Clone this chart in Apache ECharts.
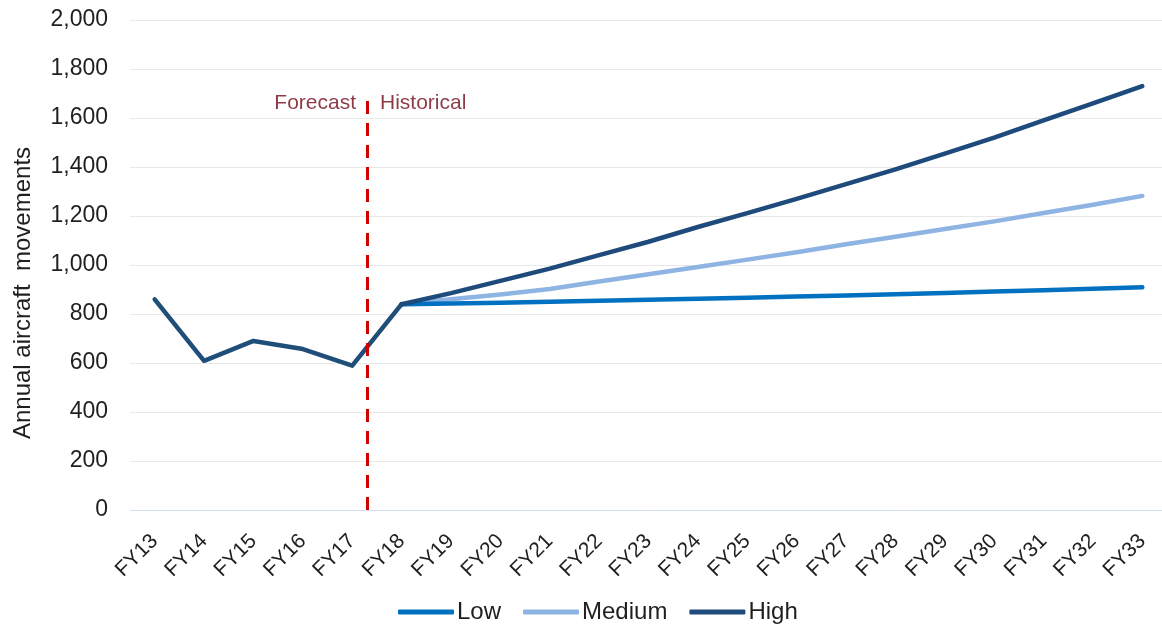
<!DOCTYPE html>
<html>
<head>
<meta charset="utf-8">
<script src="https://cdn.jsdelivr.net/npm/echarts@6/dist/echarts.min.js"></script>
<style>
  html, body { margin: 0; padding: 0; background: #ffffff; }
  #chart { width: 1162px; height: 627px; }
</style>
</head>
<body>
<div id="chart"></div>
<script>
// Financial years on the x axis
const years = ['FY13','FY14','FY15','FY16','FY17','FY18','FY19','FY20','FY21','FY22','FY23',
               'FY24','FY25','FY26','FY27','FY28','FY29','FY30','FY31','FY32','FY33'];

// Recorded movements FY13–FY18
const historical = [860, 609, 690, 657, 589, 840];

// Scenario forecasts FY18–FY33
const low    = [840, 843, 846, 850, 854, 858, 862, 866, 871, 876, 881, 886, 892, 897, 903, 909];
const medium = [840, 860, 880, 902, 933, 962, 992, 1022, 1052, 1085, 1115, 1147, 1178, 1212, 1246, 1282];
const high   = [840, 885, 935, 985, 1040, 1095, 1155, 1212, 1270, 1330, 1390, 1455, 1520, 1590, 1660, 1730];

// Y axis ticks
const yTicks = [0, 200, 400, 600, 800, 1000, 1200, 1400, 1600, 1800, 2000];

// Divider between the two periods (category index position) and its height
const dividerAt = 4.3;
const dividerTop = 1680;
const dividerLabelY = 1660;

const forecastStart = years.indexOf('FY18');
function pad(arr) {
  const out = years.map(() => null);
  arr.forEach((v, i) => { out[forecastStart + i] = v; });
  return out;
}
const histFull = years.map((_, i) => (i < historical.length ? historical[i] : null));

const font = 'Arial, "Liberation Sans", sans-serif';
const textColor = '#1F1F1F';

const chart = echarts.init(document.getElementById('chart'), null, { renderer: 'canvas' });
chart.setOption({
  animation: false,
  backgroundColor: '#ffffff',
  grid: { left: 130, top: 20, width: 1037, height: 490, containLabel: false, outerBoundsMode: 'none' },
  legend: {
    left: 393,
    top: 595,
    icon: 'roundRect',
    itemWidth: 56,
    itemHeight: 5,
    itemGap: 22,
    data: ['Low', 'Medium', 'High'],
    textStyle: { fontFamily: font, fontSize: 24, color: textColor, padding: [0, 0, 0, -2] }
  },
  xAxis: [
    {
      type: 'category',
      data: years,
      boundaryGap: true,
      axisLine: { show: true, lineStyle: { color: '#D5DEEC', width: 1 } },
      axisTick: { show: false },
      axisLabel: { interval: 0, rotate: 45, margin: 28, fontFamily: font, fontSize: 21, color: textColor },
      splitLine: { show: false }
    },
    {
      type: 'value',
      min: -0.5,
      max: years.length - 0.5,
      show: false
    }
  ],
  yAxis: {
    type: 'value',
    min: yTicks[0],
    max: yTicks[yTicks.length - 1],
    interval: yTicks[1] - yTicks[0],
    name: 'Annual aircraft  movements',
    nameLocation: 'middle',
    nameGap: 95,
    nameTextStyle: { fontFamily: font, fontSize: 24, color: textColor, padding: [0, 56, 0, 0] },
    axisLine: { show: false },
    axisTick: { show: false },
    axisLabel: {
      margin: 22,
      fontFamily: font, fontSize: 23, color: textColor,
      formatter: (v) => v.toLocaleString('en-US')
    },
    splitLine: { show: true, lineStyle: { color: '#E8E8E8', width: 1 } }
  },
  series: [
    {
      name: 'Historical', type: 'line', data: histFull, showSymbol: false, symbol: 'none',
      lineStyle: { color: '#1F4E79', width: 4.5, cap: 'round', join: 'round' },
      itemStyle: { color: '#1F4E79' }, z: 4
    },
    {
      name: 'Low', type: 'line', data: pad(low), showSymbol: false, symbol: 'none',
      lineStyle: { color: '#0070C0', width: 4.5, cap: 'round', join: 'round' },
      itemStyle: { color: '#0070C0' }, z: 3
    },
    {
      name: 'Medium', type: 'line', data: pad(medium), showSymbol: false, symbol: 'none',
      lineStyle: { color: '#8DB4E2', width: 4.5, cap: 'round', join: 'round' },
      itemStyle: { color: '#8DB4E2' }, z: 2
    },
    {
      name: 'High', type: 'line', data: pad(high), showSymbol: false, symbol: 'none',
      lineStyle: { color: '#1F4A7C', width: 4.5, cap: 'round', join: 'round' },
      itemStyle: { color: '#1F4A7C' }, z: 5
    },
    {
      // Divider and its two captions
      name: 'divider', type: 'scatter', xAxisIndex: 1,
      symbolSize: 0, silent: true, z: 6,
      data: [
        { value: [dividerAt, dividerLabelY], label: { show: true, position: 'left', distance: 11, formatter: 'Forecast' } },
        { value: [dividerAt, dividerLabelY], label: { show: true, position: 'right', distance: 13, formatter: 'Historical' } }
      ],
      label: { fontFamily: font, fontSize: 21, color: '#700818' },
      markLine: {
        silent: true,
        symbol: ['none', 'none'],
        label: { show: false },
        lineStyle: { color: '#D00000', width: 3, type: [13, 9] },
        data: [[ { coord: [dividerAt, 0] }, { coord: [dividerAt, dividerTop] } ]]
      }
    }
  ]
});
</script>
</body>
</html>
